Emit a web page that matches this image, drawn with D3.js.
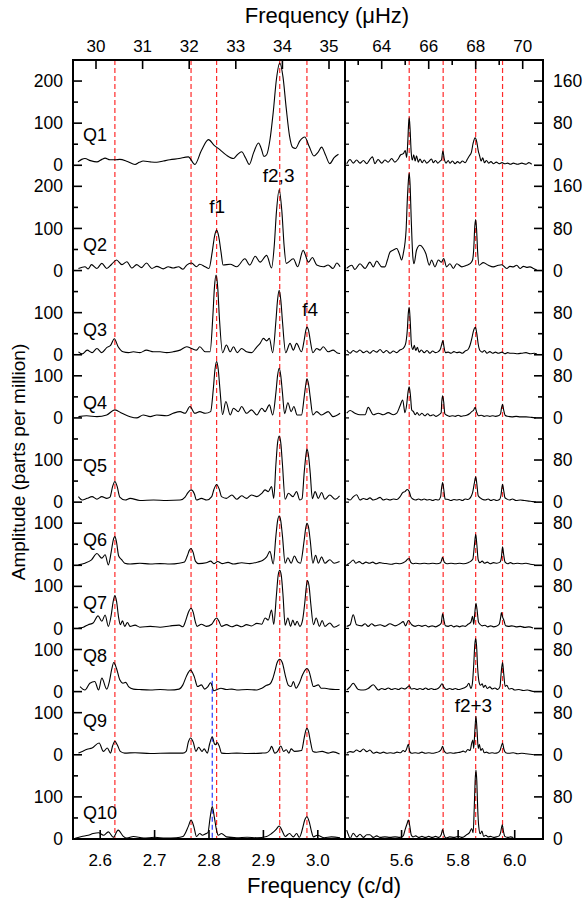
<!DOCTYPE html>
<html>
<head>
<meta charset="utf-8">
<style>
  body { margin: 0; background: #fff; }
  text { font-family: "Liberation Sans", Arial, sans-serif; fill: #000; }
</style>
</head>
<body>
<script src="https://cdn.jsdelivr.net/npm/d3@7/dist/d3.min.js"></script>
<script>
// quarters, one row each; low = 2.55-3.05 c/d window, high = 5.4-6.1 c/d window
var quarters = ["Q1", "Q2", "Q3", "Q4", "Q5", "Q6", "Q7", "Q8", "Q9", "Q10"];
var lowMax  = [250, 250, 200, 150, 200, 150, 150, 150, 150, 200];
var highMax = [200, 200, 160, 120, 160, 120, 120, 120, 120, 160];
var qLabelAmp = [57, 46, 45, 21, 71, 45, 46, 70, 66, 47];

var lowLines  = [2.627, 2.767, 2.814, 2.930, 2.980];
var highLines = [5.627, 5.747, 5.862, 5.957];
var blueFreq = 2.806;          // drawn over Q8-Q10
var lowTicks  = [2.6, 2.7, 2.8, 2.9, 3.0];
var highTicks = [5.6, 5.8, 6.0];
var muLowTicks  = [30, 31, 32, 33, 34, 35];
var muHighTicks = [63, 64, 65, 66, 67, 68, 69, 70];

// amplitude spectra (freq c/d, amplitude ppm)
var q1Low = [[2.559,8],[2.566,14],[2.572,16],[2.582,11],[2.594,8],[2.603,14],[2.609,17],[2.618,13],[2.627,13],[2.636,14],[2.650,9],[2.664,2],[2.672,7],[2.679,10],[2.692,8],[2.704,7],[2.716,10],[2.728,13],[2.745,16],[2.762,20],[2.774,2],[2.786,35],[2.799,61],[2.809,48],[2.820,37],[2.832,24],[2.845,16],[2.852,25],[2.860,32],[2.867,18],[2.874,2],[2.882,30],[2.891,53],[2.896,40],[2.901,21],[2.906,25],[2.912,60],[2.918,125],[2.924,205],[2.930,243],[2.936,210],[2.942,135],[2.948,70],[2.954,42],[2.959,40],[2.967,58],[2.976,67],[2.984,45],[2.993,22],[3.000,30],[3.007,43],[3.014,25],[3.022,4],[3.030,18],[3.038,26]];
var q2Low = [[2.560,5],[2.572,9],[2.578,4],[2.584,14],[2.594,5],[2.603,17],[2.612,5],[2.621,15],[2.630,25],[2.640,14],[2.649,21],[2.658,6],[2.667,14],[2.676,7],[2.685,18],[2.695,5],[2.704,10],[2.716,4],[2.725,9],[2.734,6],[2.744,9],[2.752,3],[2.759,13],[2.768,18],[2.777,9],[2.783,15],[2.793,9],[2.800,5],[2.806,45],[2.810,80],[2.814,96],[2.818,80],[2.822,45],[2.826,13],[2.839,15],[2.851,9],[2.866,28],[2.875,13],[2.885,34],[2.894,20],[2.906,36],[2.915,6],[2.920,60],[2.924,140],[2.929,192],[2.934,140],[2.938,60],[2.942,17],[2.955,28],[2.963,9],[2.973,48],[2.983,20],[2.990,31],[2.998,13],[3.010,9],[3.019,13],[3.028,5],[3.035,18],[3.041,9]];
var q3Low = [[2.560,7],[2.567,2],[2.576,11],[2.585,5],[2.594,15],[2.603,5],[2.612,17],[2.619,22],[2.626,38],[2.633,19],[2.642,7],[2.652,5],[2.661,7],[2.673,5],[2.685,11],[2.698,7],[2.710,7],[2.722,5],[2.734,7],[2.747,11],[2.759,19],[2.768,15],[2.777,11],[2.783,19],[2.793,7],[2.802,7],[2.807,90],[2.810,160],[2.813,189],[2.816,160],[2.819,90],[2.825,5],[2.832,23],[2.839,7],[2.845,19],[2.852,5],[2.860,15],[2.869,7],[2.878,5],[2.888,19],[2.894,27],[2.900,39],[2.906,33],[2.911,39],[2.917,5],[2.923,80],[2.926,130],[2.929,153],[2.932,130],[2.935,80],[2.941,5],[2.949,27],[2.955,11],[2.961,27],[2.970,7],[2.975,35],[2.978,58],[2.980,66],[2.983,58],[2.986,35],[2.991,5],[2.998,15],[3.004,11],[3.010,19],[3.019,7],[3.028,11],[3.035,5],[3.041,3]];
var q4Low = [[2.560,3],[2.575,5],[2.594,3],[2.612,7],[2.627,19],[2.640,11],[2.655,3],[2.667,0],[2.679,7],[2.692,3],[2.704,7],[2.722,5],[2.734,11],[2.747,15],[2.756,11],[2.765,27],[2.774,11],[2.783,15],[2.793,11],[2.803,15],[2.808,70],[2.811,115],[2.814,134],[2.817,115],[2.820,70],[2.825,8],[2.831,39],[2.839,7],[2.845,23],[2.854,15],[2.860,27],[2.869,11],[2.878,19],[2.888,7],[2.897,23],[2.903,15],[2.911,31],[2.917,7],[2.923,60],[2.926,100],[2.929,118],[2.932,100],[2.935,60],[2.939,10],[2.945,36],[2.951,15],[2.956,27],[2.962,7],[2.970,7],[2.975,50],[2.978,80],[2.980,93],[2.983,80],[2.986,50],[2.991,7],[2.998,15],[3.007,7],[3.019,15],[3.028,3],[3.041,11]];
var q5Low = [[2.560,13],[2.567,5],[2.576,9],[2.585,13],[2.594,7],[2.603,13],[2.612,9],[2.618,12],[2.623,38],[2.627,49],[2.631,38],[2.636,12],[2.646,5],[2.655,9],[2.673,4],[2.698,5],[2.722,4],[2.747,5],[2.756,12],[2.761,22],[2.767,29],[2.773,20],[2.777,5],[2.786,9],[2.796,5],[2.805,13],[2.809,30],[2.814,42],[2.819,30],[2.823,13],[2.832,9],[2.842,17],[2.851,7],[2.860,15],[2.869,9],[2.878,17],[2.888,13],[2.897,21],[2.903,29],[2.909,25],[2.915,37],[2.919,9],[2.923,90],[2.926,140],[2.929,157],[2.932,140],[2.935,90],[2.940,7],[2.946,21],[2.954,13],[2.961,25],[2.967,5],[2.971,8],[2.975,70],[2.978,110],[2.980,126],[2.983,110],[2.986,70],[2.990,8],[2.995,25],[3.001,9],[3.007,23],[3.013,7],[3.022,17],[3.032,7],[3.040,15]];
var q6Low = [[2.560,1],[2.572,5],[2.584,13],[2.594,28],[2.603,17],[2.609,25],[2.615,1],[2.620,30],[2.624,60],[2.627,68],[2.630,55],[2.634,22],[2.639,14],[2.645,5],[2.655,3],[2.673,5],[2.692,3],[2.710,4],[2.728,3],[2.745,5],[2.755,8],[2.760,22],[2.764,36],[2.767,40],[2.771,30],[2.775,10],[2.781,4],[2.795,6],[2.803,10],[2.809,4],[2.816,9],[2.824,4],[2.835,7],[2.845,3],[2.860,6],[2.875,4],[2.890,8],[2.899,12],[2.906,20],[2.912,33],[2.918,3],[2.923,70],[2.926,105],[2.929,117],[2.932,105],[2.935,70],[2.940,5],[2.945,18],[2.951,5],[2.957,22],[2.963,8],[2.968,5],[2.975,60],[2.978,90],[2.980,100],[2.983,90],[2.986,60],[2.991,5],[2.996,24],[3.001,5],[3.007,20],[3.013,5],[3.022,13],[3.030,5],[3.040,9]];
var q7Low = [[2.560,1],[2.569,3],[2.578,9],[2.587,13],[2.596,30],[2.603,17],[2.609,32],[2.615,5],[2.620,30],[2.624,65],[2.627,78],[2.630,65],[2.634,25],[2.637,9],[2.641,18],[2.645,5],[2.650,14],[2.655,5],[2.664,8],[2.673,3],[2.692,5],[2.710,3],[2.728,6],[2.745,8],[2.752,4],[2.757,18],[2.762,38],[2.767,48],[2.771,38],[2.775,15],[2.778,5],[2.786,10],[2.795,5],[2.805,10],[2.810,20],[2.814,25],[2.818,18],[2.823,5],[2.832,9],[2.842,4],[2.851,8],[2.860,4],[2.869,9],[2.878,6],[2.888,12],[2.897,10],[2.903,25],[2.909,20],[2.915,44],[2.919,10],[2.924,80],[2.927,125],[2.930,138],[2.933,125],[2.936,80],[2.940,8],[2.945,25],[2.950,5],[2.954,20],[2.958,8],[2.962,17],[2.967,5],[2.972,20],[2.976,60],[2.979,100],[2.981,114],[2.984,100],[2.987,60],[2.992,9],[2.997,25],[3.003,5],[3.008,19],[3.013,5],[3.022,13],[3.030,3],[3.040,9]];
var q8Low = [[2.563,12],[2.572,4],[2.581,20],[2.590,24],[2.597,4],[2.603,32],[2.612,6],[2.617,25],[2.621,52],[2.625,69],[2.630,55],[2.636,28],[2.642,20],[2.647,22],[2.652,12],[2.661,6],[2.673,5],[2.692,4],[2.710,5],[2.728,4],[2.745,6],[2.752,16],[2.758,35],[2.766,51],[2.773,35],[2.779,12],[2.786,16],[2.792,6],[2.798,12],[2.803,21],[2.809,2],[2.815,5],[2.822,8],[2.832,5],[2.842,6],[2.851,4],[2.870,5],[2.888,4],[2.897,8],[2.906,15],[2.912,18],[2.917,30],[2.921,48],[2.925,68],[2.930,77],[2.935,68],[2.940,40],[2.946,15],[2.951,12],[2.955,24],[2.960,8],[2.966,20],[2.972,40],[2.976,50],[2.980,55],[2.984,48],[2.988,28],[2.992,12],[3.001,16],[3.006,8],[3.013,8],[3.022,6],[3.032,5],[3.040,5]];
var q9Low = [[2.560,4],[2.567,8],[2.576,13],[2.585,16],[2.598,28],[2.606,8],[2.613,16],[2.619,4],[2.623,22],[2.627,32],[2.632,22],[2.637,8],[2.645,4],[2.664,5],[2.692,3],[2.728,4],[2.752,4],[2.758,8],[2.762,30],[2.766,40],[2.771,30],[2.776,8],[2.781,18],[2.787,8],[2.791,14],[2.797,4],[2.801,25],[2.806,43],[2.810,26],[2.812,24],[2.815,29],[2.819,20],[2.823,4],[2.832,3],[2.851,4],[2.870,3],[2.897,4],[2.906,5],[2.912,12],[2.915,20],[2.921,4],[2.926,8],[2.932,21],[2.937,8],[2.942,12],[2.947,4],[2.951,14],[2.957,8],[2.970,10],[2.975,40],[2.978,58],[2.980,63],[2.983,55],[2.986,35],[2.991,8],[2.998,6],[3.008,8],[3.019,4],[3.028,7],[3.040,2]];
var q10Low = [[2.554,2],[2.566,6],[2.578,9],[2.587,13],[2.597,15],[2.606,9],[2.615,17],[2.624,4],[2.633,21],[2.642,7],[2.649,2],[2.661,6],[2.680,2],[2.700,4],[2.720,2],[2.740,3],[2.752,6],[2.762,30],[2.767,45],[2.772,30],[2.777,6],[2.783,13],[2.788,9],[2.793,12],[2.798,15],[2.802,50],[2.806,77],[2.810,50],[2.814,20],[2.817,9],[2.823,13],[2.832,5],[2.851,3],[2.870,4],[2.888,3],[2.906,6],[2.915,13],[2.923,22],[2.929,31],[2.935,18],[2.940,6],[2.948,13],[2.955,5],[2.961,13],[2.966,4],[2.972,25],[2.976,45],[2.980,53],[2.984,42],[2.988,20],[2.992,5],[2.999,9],[3.012,3],[3.025,5],[3.041,3]];

var q1High = [[5.406,3],[5.418,11],[5.429,4],[5.441,10],[5.453,4],[5.465,9],[5.477,3],[5.488,11],[5.497,16],[5.506,3],[5.517,11],[5.530,4],[5.541,10],[5.553,6],[5.565,13],[5.576,6],[5.588,12],[5.597,20],[5.606,22],[5.613,28],[5.618,15],[5.622,45],[5.625,80],[5.627,90],[5.630,70],[5.634,25],[5.638,10],[5.643,20],[5.648,8],[5.653,18],[5.659,6],[5.665,12],[5.673,5],[5.680,10],[5.689,4],[5.698,8],[5.706,12],[5.712,5],[5.720,9],[5.728,4],[5.736,8],[5.741,10],[5.746,27],[5.751,12],[5.757,4],[5.765,9],[5.771,4],[5.780,8],[5.789,3],[5.798,7],[5.806,4],[5.815,8],[5.825,5],[5.833,12],[5.840,18],[5.847,25],[5.853,42],[5.860,52],[5.866,44],[5.871,28],[5.876,18],[5.881,8],[5.887,14],[5.893,5],[5.900,9],[5.908,4],[5.916,7],[5.925,3],[5.935,6],[5.945,3],[5.955,5],[5.965,3],[5.975,4],[5.985,2],[5.995,4],[6.010,2],[6.025,4],[6.040,2],[6.050,5],[6.060,2]];
var q2High = [[5.406,4],[5.424,10],[5.435,2],[5.453,13],[5.471,4],[5.488,16],[5.500,7],[5.512,18],[5.530,7],[5.541,7],[5.550,20],[5.559,35],[5.571,39],[5.583,42],[5.592,32],[5.600,20],[5.606,32],[5.616,77],[5.620,130],[5.624,170],[5.627,185],[5.630,165],[5.634,100],[5.640,25],[5.644,13],[5.653,39],[5.665,48],[5.677,42],[5.686,32],[5.698,10],[5.706,20],[5.718,7],[5.730,20],[5.741,16],[5.749,23],[5.759,7],[5.771,13],[5.783,4],[5.795,13],[5.813,7],[5.830,10],[5.842,13],[5.851,20],[5.855,40],[5.859,85],[5.862,97],[5.865,80],[5.869,35],[5.874,10],[5.889,15],[5.907,10],[5.924,7],[5.942,10],[5.954,11],[5.972,4],[5.983,8],[5.995,7],[6.007,10],[6.019,4],[6.031,8],[6.042,6],[6.054,7],[6.066,4],[6.078,1]];
var q3High = [[5.406,9],[5.418,3],[5.429,8],[5.441,5],[5.453,9],[5.465,4],[5.477,7],[5.488,3],[5.500,8],[5.512,5],[5.524,10],[5.535,4],[5.547,8],[5.559,3],[5.571,7],[5.583,4],[5.594,9],[5.606,12],[5.614,20],[5.620,45],[5.624,80],[5.627,90],[5.631,60],[5.635,18],[5.640,10],[5.645,18],[5.650,8],[5.656,14],[5.662,5],[5.670,9],[5.680,4],[5.690,8],[5.700,3],[5.710,7],[5.720,4],[5.730,6],[5.738,12],[5.742,20],[5.746,27],[5.750,15],[5.755,4],[5.765,5],[5.775,3],[5.785,6],[5.795,4],[5.805,5],[5.815,3],[5.825,7],[5.835,10],[5.842,18],[5.848,30],[5.854,45],[5.861,52],[5.866,40],[5.871,20],[5.877,8],[5.885,5],[5.893,8],[5.902,3],[5.912,6],[5.922,3],[5.932,5],[5.942,3],[5.955,5],[5.965,2],[5.975,4],[5.985,3],[5.995,3],[6.010,2],[6.025,3],[6.040,4],[6.055,2],[6.070,3],[6.078,2]];
var q4High = [[5.406,9],[5.418,14],[5.435,9],[5.453,6],[5.471,6],[5.482,20],[5.500,6],[5.518,9],[5.535,6],[5.553,10],[5.571,6],[5.583,9],[5.594,22],[5.604,34],[5.612,10],[5.618,25],[5.623,50],[5.627,59],[5.631,45],[5.636,15],[5.642,12],[5.648,6],[5.655,10],[5.663,5],[5.672,9],[5.682,4],[5.692,8],[5.702,4],[5.712,6],[5.722,3],[5.732,6],[5.740,10],[5.742,30],[5.745,42],[5.749,30],[5.753,8],[5.760,5],[5.770,3],[5.780,4],[5.790,3],[5.800,5],[5.810,3],[5.820,4],[5.830,5],[5.840,8],[5.848,12],[5.855,15],[5.860,20],[5.866,10],[5.872,4],[5.882,5],[5.892,3],[5.902,4],[5.912,3],[5.922,4],[5.932,3],[5.942,4],[5.950,8],[5.953,18],[5.957,26],[5.961,15],[5.966,5],[5.975,3],[5.990,2],[6.005,3],[6.020,2],[6.040,2],[6.060,1],[6.075,0]];
var q5High = [[5.406,7],[5.418,4],[5.429,10],[5.441,14],[5.453,4],[5.465,7],[5.477,5],[5.488,8],[5.500,4],[5.512,6],[5.524,9],[5.535,4],[5.547,6],[5.559,4],[5.571,6],[5.583,5],[5.594,10],[5.604,18],[5.612,20],[5.620,24],[5.627,20],[5.633,10],[5.640,6],[5.650,4],[5.660,6],[5.670,4],[5.680,6],[5.690,4],[5.700,5],[5.710,3],[5.720,5],[5.730,4],[5.738,10],[5.741,25],[5.745,37],[5.749,25],[5.754,6],[5.765,5],[5.775,3],[5.785,5],[5.795,4],[5.805,5],[5.815,3],[5.825,6],[5.835,5],[5.845,10],[5.851,18],[5.857,35],[5.862,48],[5.866,35],[5.871,12],[5.878,8],[5.887,5],[5.896,4],[5.906,6],[5.916,3],[5.926,5],[5.936,3],[5.946,5],[5.952,15],[5.954,25],[5.957,34],[5.961,22],[5.966,8],[5.972,6],[5.982,4],[5.992,6],[6.005,3],[6.020,4],[6.035,3],[6.050,2],[6.065,1],[6.075,0]];
var q6High = [[5.406,1],[5.418,5],[5.429,10],[5.438,4],[5.450,7],[5.462,3],[5.474,6],[5.486,4],[5.498,6],[5.510,3],[5.522,5],[5.535,4],[5.550,3],[5.565,2],[5.580,4],[5.594,3],[5.606,5],[5.615,8],[5.622,12],[5.627,13],[5.632,6],[5.640,3],[5.650,4],[5.665,3],[5.680,4],[5.695,3],[5.710,4],[5.725,3],[5.738,5],[5.745,15],[5.751,6],[5.760,3],[5.775,4],[5.790,3],[5.805,4],[5.820,3],[5.835,5],[5.845,8],[5.852,12],[5.857,35],[5.862,59],[5.866,40],[5.871,10],[5.877,5],[5.885,8],[5.893,4],[5.903,6],[5.913,3],[5.925,5],[5.937,4],[5.948,6],[5.953,15],[5.957,35],[5.961,20],[5.966,6],[5.975,3],[5.985,5],[5.995,3],[6.010,4],[6.025,3],[6.040,4],[6.055,2],[6.070,1]];
var q7High = [[5.406,4],[5.418,7],[5.429,26],[5.441,7],[5.459,5],[5.471,9],[5.482,4],[5.494,9],[5.506,5],[5.524,7],[5.541,4],[5.559,9],[5.577,5],[5.594,9],[5.606,13],[5.614,5],[5.624,15],[5.636,7],[5.648,4],[5.660,6],[5.672,4],[5.684,6],[5.696,3],[5.708,5],[5.720,3],[5.732,6],[5.740,10],[5.745,28],[5.750,15],[5.755,5],[5.765,4],[5.775,6],[5.785,3],[5.795,5],[5.805,3],[5.815,5],[5.825,4],[5.835,8],[5.845,12],[5.851,23],[5.855,8],[5.859,30],[5.863,48],[5.867,35],[5.872,12],[5.877,8],[5.885,5],[5.895,6],[5.905,3],[5.915,5],[5.925,3],[5.935,4],[5.945,8],[5.950,20],[5.953,30],[5.957,22],[5.962,15],[5.968,5],[5.978,4],[5.990,5],[6.005,3],[6.020,4],[6.035,2],[6.050,3],[6.065,1]];
var q8High = [[5.406,3],[5.418,9],[5.429,16],[5.447,4],[5.465,3],[5.482,6],[5.500,13],[5.518,3],[5.530,6],[5.541,4],[5.553,7],[5.565,4],[5.577,6],[5.589,4],[5.600,7],[5.612,5],[5.622,9],[5.627,11],[5.635,5],[5.645,6],[5.655,4],[5.665,6],[5.675,4],[5.685,7],[5.695,4],[5.705,6],[5.715,4],[5.725,5],[5.735,9],[5.743,15],[5.750,8],[5.760,4],[5.770,6],[5.780,4],[5.790,6],[5.800,4],[5.810,5],[5.820,7],[5.830,10],[5.838,16],[5.845,6],[5.850,14],[5.855,50],[5.859,90],[5.862,101],[5.865,88],[5.869,45],[5.874,18],[5.879,12],[5.885,15],[5.890,8],[5.896,12],[5.903,6],[5.912,9],[5.920,5],[5.930,7],[5.940,4],[5.948,10],[5.952,35],[5.957,55],[5.961,35],[5.966,10],[5.972,12],[5.980,5],[5.990,6],[6.000,3],[6.015,4],[6.030,2],[6.045,3],[6.060,1],[6.070,0]];
var q9High = [[5.406,3],[5.418,6],[5.429,5],[5.441,9],[5.453,6],[5.465,11],[5.477,6],[5.488,9],[5.500,3],[5.512,5],[5.524,3],[5.536,5],[5.548,3],[5.560,4],[5.572,3],[5.584,5],[5.596,4],[5.606,8],[5.612,6],[5.617,10],[5.624,20],[5.629,6],[5.636,3],[5.648,4],[5.660,3],[5.672,5],[5.684,3],[5.696,4],[5.708,3],[5.720,4],[5.732,6],[5.740,10],[5.745,16],[5.751,7],[5.760,3],[5.772,4],[5.784,3],[5.796,4],[5.808,5],[5.818,7],[5.826,5],[5.834,10],[5.842,8],[5.848,22],[5.852,28],[5.855,12],[5.859,45],[5.863,73],[5.867,45],[5.871,12],[5.875,20],[5.880,8],[5.886,12],[5.892,4],[5.900,5],[5.910,3],[5.920,4],[5.930,3],[5.940,4],[5.948,8],[5.957,22],[5.962,10],[5.968,4],[5.980,3],[5.995,4],[6.010,2],[6.025,3],[6.040,2],[6.055,1],[6.070,0]];
var q10High = [[5.406,17],[5.412,8],[5.418,1],[5.429,11],[5.441,4],[5.453,9],[5.465,3],[5.477,8],[5.488,8],[5.500,3],[5.512,6],[5.524,3],[5.541,4],[5.559,3],[5.577,4],[5.594,3],[5.606,6],[5.612,17],[5.620,30],[5.624,36],[5.629,25],[5.634,8],[5.640,4],[5.650,6],[5.660,3],[5.672,5],[5.684,3],[5.696,5],[5.708,3],[5.720,5],[5.732,3],[5.740,8],[5.745,18],[5.750,8],[5.757,2],[5.770,4],[5.785,3],[5.800,5],[5.815,3],[5.830,8],[5.840,12],[5.848,20],[5.853,12],[5.857,60],[5.860,110],[5.863,131],[5.866,110],[5.869,60],[5.873,23],[5.878,10],[5.884,15],[5.890,5],[5.898,7],[5.906,4],[5.915,5],[5.925,3],[5.935,4],[5.945,6],[5.950,12],[5.956,27],[5.960,15],[5.965,5],[5.975,3],[5.985,4],[5.995,3]];

var lowSeries  = [q1Low, q2Low, q3Low, q4Low, q5Low, q6Low, q7Low, q8Low, q9Low, q10Low];
var highSeries = [q1High, q2High, q3High, q4High, q5High, q6High, q7High, q8High, q9High, q10High];

var W = 586, H = 899;
var plotTop = 60, plotBottom = 839;
var xLow  = d3.scaleLinear().domain([2.55, 3.05]).range([73, 345]);
var xHigh = d3.scaleLinear().domain([5.4, 6.1]).range([345, 543]);
var muLow  = d3.scaleLinear().domain([30, 35]).range([96, 329]);
var muHigh = d3.scaleLinear().domain([64, 70]).range([381.7, 522.7]);

var unit = (plotBottom - plotTop) / d3.sum(lowMax);
var rowBase = [];
var acc = plotTop;
lowMax.forEach(function(m) { acc += m * unit; rowBase.push(acc); });

var yLow = lowMax.map(function(m, i) {
  return d3.scaleLinear().domain([0, m]).range([rowBase[i], rowBase[i] - m * unit]);
});
var yHigh = highMax.map(function(m, i) {
  return d3.scaleLinear().domain([0, m]).range([rowBase[i], rowBase[i] - lowMax[i] * unit]);
});

var svg = d3.select("body").append("svg")
  .attr("width", W).attr("height", H);

// dashed frequency markers
svg.append("g").selectAll("line").data(lowLines).enter().append("line")
  .attr("x1", function(d) { return xLow(d); }).attr("x2", function(d) { return xLow(d); })
  .attr("y1", plotTop).attr("y2", plotBottom)
  .attr("stroke", "#ff2a2a").attr("stroke-width", 1.2).attr("stroke-dasharray", "5,3");
svg.append("g").selectAll("line").data(highLines).enter().append("line")
  .attr("x1", function(d) { return xHigh(d); }).attr("x2", function(d) { return xHigh(d); })
  .attr("y1", plotTop).attr("y2", plotBottom)
  .attr("stroke", "#ff2a2a").attr("stroke-width", 1.2).attr("stroke-dasharray", "5,3");
svg.append("line")
  .attr("x1", xLow(blueFreq)).attr("x2", xLow(blueFreq))
  .attr("y1", yLow[7](45)).attr("y2", plotBottom)
  .attr("stroke", "#2a3cff").attr("stroke-width", 1.2).attr("stroke-dasharray", "5,3");

// spectra
quarters.forEach(function(q, i) {
  var lineLow = d3.line()
    .x(function(d) { return xLow(d[0]); })
    .y(function(d) { return yLow[i](d[1]); })
    .curve(d3.curveMonotoneX);
  var lineHigh = d3.line()
    .x(function(d) { return xHigh(d[0]); })
    .y(function(d) { return yHigh[i](d[1]); })
    .curve(d3.curveMonotoneX);
  svg.append("path").datum(lowSeries[i]).attr("d", lineLow)
    .attr("fill", "none").attr("stroke", "#000").attr("stroke-width", 1.1);
  svg.append("path").datum(highSeries[i]).attr("d", lineHigh)
    .attr("fill", "none").attr("stroke", "#000").attr("stroke-width", 1.1);

  // left axis ticks (inward)
  d3.range(0, lowMax[i], 50).forEach(function(v) {
    var major = v % 100 === 0;
    var y = yLow[i](v);
    svg.append("line").attr("x1", 73).attr("x2", 73 + (major ? 9 : 5))
      .attr("y1", y).attr("y2", y).attr("stroke", "#000").attr("stroke-width", 1.6);
    if (major) {
      svg.append("text").attr("x", 63).attr("y", y).attr("dy", "0.35em")
        .attr("text-anchor", "end").style("font-size", "17.5px").text(v);
    }
  });
  // right axis ticks (inward) + small ticks on divider
  d3.range(0, highMax[i], 40).forEach(function(v) {
    var major = v % 80 === 0;
    var y = yHigh[i](v);
    svg.append("line").attr("x1", 543).attr("x2", 543 - (major ? 9 : 5))
      .attr("y1", y).attr("y2", y).attr("stroke", "#000").attr("stroke-width", 1.6);
    svg.append("line").attr("x1", 345).attr("x2", 349)
      .attr("y1", y).attr("y2", y).attr("stroke", "#000").attr("stroke-width", 1.2);
    if (major) {
      svg.append("text").attr("x", 553).attr("y", y).attr("dy", "0.35em")
        .attr("text-anchor", "start").style("font-size", "17.5px").text(v);
    }
  });

  svg.append("text").attr("x", 83).attr("y", yLow[i](qLabelAmp[i]))
    .style("font-size", "18px").text(q);
});

// top (microhertz) ticks
muLowTicks.forEach(function(m) {
  svg.append("line").attr("x1", muLow(m)).attr("x2", muLow(m))
    .attr("y1", plotTop).attr("y2", plotTop + 9).attr("stroke", "#000").attr("stroke-width", 1.6);
  svg.append("text").attr("x", muLow(m)).attr("y", 52).attr("text-anchor", "middle")
    .style("font-size", "17px").text(m);
});
muHighTicks.forEach(function(m) {
  var major = m % 2 === 0;
  svg.append("line").attr("x1", muHigh(m)).attr("x2", muHigh(m))
    .attr("y1", plotTop).attr("y2", plotTop + (major ? 9 : 5)).attr("stroke", "#000").attr("stroke-width", 1.6);
  if (major) {
    svg.append("text").attr("x", muHigh(m)).attr("y", 52).attr("text-anchor", "middle")
      .style("font-size", "17px").text(m);
  }
});

// bottom (c/d) ticks
lowTicks.forEach(function(f) {
  svg.append("line").attr("x1", xLow(f)).attr("x2", xLow(f))
    .attr("y1", plotBottom).attr("y2", plotBottom - 9).attr("stroke", "#000").attr("stroke-width", 1.6);
  svg.append("text").attr("x", xLow(f)).attr("y", 866).attr("text-anchor", "middle")
    .style("font-size", "17px").text(f.toFixed(1));
});
highTicks.forEach(function(f) {
  svg.append("line").attr("x1", xHigh(f)).attr("x2", xHigh(f))
    .attr("y1", plotBottom).attr("y2", plotBottom - 9).attr("stroke", "#000").attr("stroke-width", 1.6);
  svg.append("text").attr("x", xHigh(f)).attr("y", 866).attr("text-anchor", "middle")
    .style("font-size", "17px").text(f.toFixed(1));
});

// frame + divider
svg.append("rect").attr("x", 73).attr("y", plotTop).attr("width", 543 - 73).attr("height", plotBottom - plotTop)
  .attr("fill", "none").attr("stroke", "#000").attr("stroke-width", 2);
svg.append("line").attr("x1", 345).attr("x2", 345).attr("y1", plotTop).attr("y2", plotBottom)
  .attr("stroke", "#000").attr("stroke-width", 2);

// peak annotations
svg.append("text").attr("x", xLow(2.815)).attr("y", yLow[1](137)).attr("text-anchor", "middle")
  .style("font-size", "19px").text("f1");
svg.append("text").attr("x", xLow(2.928)).attr("y", yLow[1](210)).attr("text-anchor", "middle")
  .style("font-size", "19px").text("f2,3");
svg.append("text").attr("x", xLow(2.986)).attr("y", yLow[2](93)).attr("text-anchor", "middle")
  .style("font-size", "19px").text("f4");
svg.append("text").attr("x", xHigh(5.854)).attr("y", yHigh[8](81)).attr("text-anchor", "middle")
  .style("font-size", "19px").text("f2+3");

// axis titles
svg.append("text").attr("x", 327).attr("y", 23).attr("text-anchor", "middle")
  .style("font-size", "22px").text("Frequency (\u03bcHz)");
svg.append("text").attr("x", 324).attr("y", 893).attr("text-anchor", "middle")
  .style("font-size", "22px").text("Frequency (c/d)");
svg.append("text").attr("transform", "translate(25,462) rotate(-90)").attr("text-anchor", "middle")
  .style("font-size", "19px").text("Amplitude (parts per million)");
</script>
</body>
</html>
